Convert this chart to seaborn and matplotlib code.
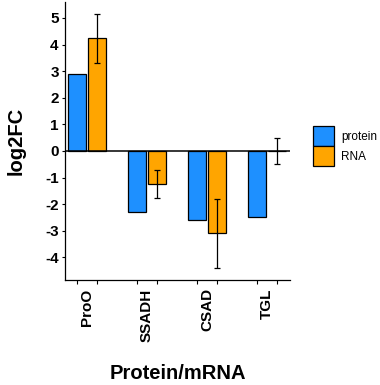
import matplotlib
matplotlib.use("Agg")
import matplotlib.pyplot as plt
import seaborn as sns
import pandas as pd
import numpy as np

# values
genes = ['ProO', 'SSADH', 'CSAD', 'TGL']
protein = [2.89, -2.28, -2.59, -2.49]
rna = [4.23, -1.24, -3.09, 0.0]
rna_err = [0.92, 0.53, 1.30, 0.50]

df = pd.DataFrame({
    'gene': genes * 2,
    'type': ['protein'] * 4 + ['RNA'] * 4,
    'log2FC': protein + rna,
})

sns.set_style("white")
plt.rcParams['font.family'] = ['Liberation Sans', 'DejaVu Sans']
plt.rcParams['text.color'] = 'black'
plt.rcParams['axes.labelcolor'] = 'black'
plt.rcParams['xtick.color'] = 'black'
plt.rcParams['ytick.color'] = 'black'

fig = plt.figure(figsize=(3.8, 3.85), dpi=100)
ax = fig.add_axes([65 / 380, 1 - 280 / 385, 225 / 380, 278 / 385])

sns.barplot(data=df, x='gene', y='log2FC', hue='type', order=genes,
            hue_order=['protein', 'RNA'], palette=['#1E90FF', '#FFA500'],
            saturation=1, width=0.67, gap=0.1, errorbar=None,
            edgecolor='black', linewidth=0.9, ax=ax)

# error bars on the RNA bars
rna_bars = ax.patches[4:8]
xs = [p.get_x() + p.get_width() / 2 for p in rna_bars]
ax.errorbar(xs, rna, yerr=rna_err, fmt='none', ecolor='black',
            elinewidth=0.9, capsize=2, capthick=0.9)

ax.axhline(0, color='black', linewidth=1.1)

ax.set_xlim(-0.367, 3.38)
ax.set_ylim(-4.85, 5.6)
ax.set_yticks(range(-4, 6))
ax.set_yticklabels([str(v) for v in range(-4, 6)], fontsize=11, fontweight='bold')

ax.set_xticks(range(4))
ax.set_xticklabels(genes, rotation=90, fontsize=11, fontweight='bold')
ax.tick_params(axis='x', which='major', length=0, pad=6)
bar_centers = sorted(p.get_x() + p.get_width() / 2 for p in ax.patches[:8])
ax.set_xticks(bar_centers, minor=True)
ax.tick_params(axis='x', which='minor', length=3, width=0.8, bottom=True)
ax.tick_params(axis='y', length=2.5, width=0.8, left=True, pad=2)

for s in ['top', 'right']:
    ax.spines[s].set_visible(False)
for s in ['left', 'bottom']:
    ax.spines[s].set_color('black')
    ax.spines[s].set_linewidth(0.9)

ax.set_xlabel('Protein/mRNA', fontsize=14.5, fontweight='bold', labelpad=16)
ax.set_ylabel('log2FC', fontsize=14.5, fontweight='bold', labelpad=14)

leg = ax.legend(loc='upper left', bbox_to_anchor=(1.08, 0.57), frameon=False,
                fontsize=8.5, handlelength=1.8, handleheight=2.2,
                handletextpad=0.6, labelspacing=0.0, borderaxespad=0)
for h in leg.legend_handles:
    h.set_edgecolor('black')

fig.savefig('out.png', dpi=100)
